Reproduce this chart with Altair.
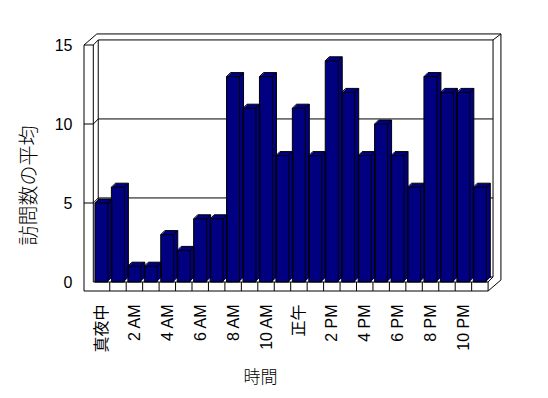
import altair as alt
import pandas as pd

# ---------------- data ----------------
HOURS = list(range(24))
VISITS = [5, 6, 1, 1, 3, 2, 4, 4, 13, 11, 13, 8, 11, 8, 14, 12, 8, 10, 8, 6, 13, 12, 12, 6]
TICK_LABELS = ["真夜中", "2 AM", "4 AM", "6 AM", "8 AM", "10 AM",
               "正午", "2 PM", "4 PM", "6 PM", "8 PM", "10 PM"]
Y_TICKS = [0, 5, 10, 15]
GRID_VALUES = [5, 10]
X_TITLE = "時間"
Y_TITLE = "訪問数の平均"

# ---------------- layout / style ----------------
PL, PT, W, H = 80, 30, 425, 265          # plot area in the 548x398 page
X0PX, XU = 93.3, 16.45                   # category 0 edge (px), px per category
Y0PX, YU = 282.0, 15.8                   # value 0 (px), px per unit
XDOM = [(PL - X0PX) / XU, (PL + W - X0PX) / XU]
YDOM = [(Y0PX - (PT + H)) / YU, (Y0PX - PT) / YU]
NCAT = len(HOURS)
YMAX = max(Y_TICKS)

NAVY = "#000080"
BO, BW = 0.10, 0.79          # bar offset / width within a category
BDX, BDY = 0.243, 0.253      # bar depth
DX, DY = 0.30, 0.32          # depth front -> back wall face
TX, TY = 0.78, 0.70          # depth front -> outer back of the wall slab
WT, FT = 0.565, 0.57         # left wall / floor thickness

xs = alt.Scale(domain=XDOM, nice=False, zero=False)
ys = alt.Scale(domain=YDOM, nice=False, zero=False)

# ---------------- bars ----------------
bars = pd.DataFrame({"hour": HOURS, "v": VISITS})
bars["L"] = bars["hour"] + BO
bars["R"] = bars["L"] + BW

fill_rows = []
for _, r in bars.iterrows():
    for f in (0.25, 0.5, 0.75, 1.0):
        fill_rows.append({"x": r.L + f * BDX, "x2": r.R + f * BDX,
                          "y": f * BDY, "y2": r.v + f * BDY, "ord": r.hour * 10 + f})
fills = pd.DataFrame(fill_rows)

front = pd.DataFrame({"x": bars.L, "x2": bars.R, "y": 0.0, "y2": bars.v})

seg_rows = []
for _, r in bars.iterrows():
    L, R, v = r.L, r.R, r.v
    seg_rows += [
        (L + BDX, v + BDY, R + BDX, v + BDY),
        (R + BDX, BDY, R + BDX, v + BDY),
        (L, v, L + BDX, v + BDY),
        (R, v, R + BDX, v + BDY),
    ]
bar_segs = pd.DataFrame(seg_rows, columns=["x", "y", "x2", "y2"])

# ---------------- frame (walls / floor) ----------------
back = [
    (DX, DY, DX, YMAX + DY),
    (DX, YMAX + DY, NCAT + DX, YMAX + DY),
    (NCAT + DX, DY, NCAT + DX, YMAX + DY),
    (DX, DY, NCAT + DX, DY),
    (-WT + TX, YMAX + TY, NCAT + TX, YMAX + TY),
    (NCAT + TX, YMAX + TY, NCAT + TX, -FT + TY),
    (NCAT + DX, YMAX + DY, NCAT + TX, YMAX + TY),
    (NCAT, -FT, NCAT + TX, -FT + TY),
    (NCAT, 0, NCAT + DX, DY),
]
for g in GRID_VALUES:
    back.append((DX, g + DY, NCAT + DX, g + DY))
back_df = pd.DataFrame(back, columns=["x", "y", "x2", "y2"])

frontf = [
    (-WT, -FT, -WT, YMAX),
    (0, 0, 0, YMAX),
    (-WT, YMAX, 0, YMAX),
    (0, YMAX, DX, YMAX + DY),
    (-WT, YMAX, -WT + TX, YMAX + TY),
    (0, 0, NCAT, 0),
    (-WT, -FT, NCAT, -FT),
    (NCAT, -FT, NCAT, 0),
]
for g in GRID_VALUES:
    frontf.append((-WT, g, 0, g))
    frontf.append((0, g, DX, g + DY))
for k in range(1, NCAT):
    frontf.append((k, -FT, k, 0))
front_df = pd.DataFrame(frontf, columns=["x", "y", "x2", "y2"])

label_expr = "[" + ",".join("'%s'" % t for t in TICK_LABELS) + "][floor(datum.value / 2)]"

X_AXIS = alt.Axis(
    values=[h + 0.5 for h in HOURS[::2]], labelExpr=label_expr,
    labelAngle=270, labelFont="Liberation Sans, Noto Sans CJK JP", labelFontSize=16,
    labelColor="black", labelPadding=9, labelOverlap=False, labelFlush=False,
    ticks=False, domain=False, grid=False,
    title=X_TITLE, titleFont="Noto Sans CJK JP", titleFontSize=17,
    titleFontWeight=300, titleColor="black",
    titleX=180, titleY=82, titleAlign="center", titleBaseline="middle")
Y_AXIS = alt.Axis(
    values=Y_TICKS, labelFont="Liberation Sans", labelFontSize=16,
    labelColor="black", labelPadding=8, labelOverlap=False, labelFlush=False,
    ticks=False, domain=False, grid=False,
    title=Y_TITLE, titleFont="Noto Sans CJK JP", titleFontSize=20,
    titleFontWeight=300, titleColor="black", titleAngle=270,
    titleX=-51, titleY=155, titleAlign="center", titleBaseline="middle")


def enc(chart):
    return chart.encode(
        x=alt.X("x:Q", scale=xs, axis=X_AXIS, title=X_TITLE),
        y=alt.Y("y:Q", scale=ys, axis=Y_AXIS, title=Y_TITLE),
        x2="x2:Q", y2="y2:Q")


def rules(df):
    return enc(alt.Chart(df).mark_rule(color="black", strokeWidth=1))


back_layer = rules(back_df)
fill_layer = enc(alt.Chart(fills).mark_rect(color=NAVY, strokeWidth=0)).encode(order="ord:Q")
front_layer = enc(alt.Chart(front).mark_rect(fill=NAVY, stroke="black", strokeWidth=1))
seg_layer = rules(bar_segs)
frame_front_layer = rules(front_df)

chart = alt.layer(back_layer, fill_layer, front_layer, seg_layer, frame_front_layer).properties(
    width=W, height=H,
    autosize=alt.AutoSizeParams(type="none"),
    padding={"left": PL, "top": PT, "right": 548 - PL - W, "bottom": 398 - PT - H},
    background="white",
).configure_view(stroke=None)

chart.save("out.html", embed_options={"renderer": "svg", "actions": False})
